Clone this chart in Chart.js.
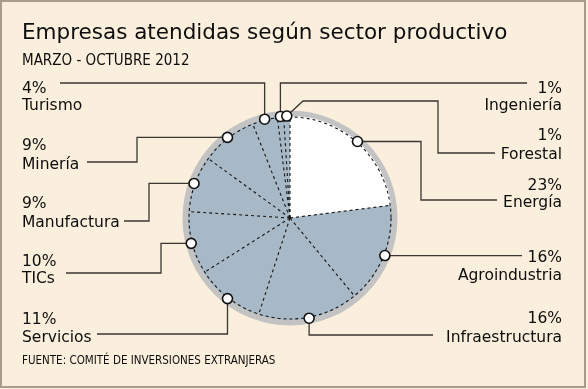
<!DOCTYPE html>
<html>
<head>
<meta charset="utf-8">
<script src="https://cdn.jsdelivr.net/npm/chart.js@4.4.0/dist/chart.umd.min.js"></script>
<style>
html, body { margin: 0; padding: 0; background: #faefdc; }
canvas { display: block; }
</style>
</head>
<body>
<canvas id="sectores" width="588" height="389"></canvas>
<script>

var sectores = ["Energía", "Agroindustria", "Infraestructura", "Servicios", "TICs", "Manufactura", "Minería", "Turismo", "Ingeniería", "Forestal"];
var porcentajes = [23, 16, 16, 11, 10, 9, 9, 4, 1, 1];
var colores = ["#ffffff", "#a7b9c7", "#a7b9c7", "#a7b9c7", "#a7b9c7", "#a7b9c7", "#a7b9c7", "#a7b9c7", "#a7b9c7", "#a7b9c7"];

var titulo = "Empresas atendidas según sector productivo";
var subtitulo = "MARZO - OCTUBRE 2012";
var fuente = "FUENTE: COMITÉ DE INVERSIONES EXTRANJERAS";

// where each label sits and how its leader line runs to the dot (p)
var etiquetas = {
	"Energía":         { lado: 'R', x: 562, y1: 190, y2: 207, ruta: function(p){ return [[497,200],[421,200],[421,p.y],[p.x,p.y]]; } },
	"Agroindustria":   { lado: 'R', x: 562, y1: 262, y2: 280, ruta: function(p){ return [[522,p.y],[p.x,p.y]]; } },
	"Infraestructura": { lado: 'R', x: 562, y1: 323, y2: 342, ruta: function(p){ return [[433,335],[p.x,335],[p.x,p.y]]; } },
	"Servicios":       { lado: 'L', x: 22,  y1: 324, y2: 342, ruta: function(p){ return [[97,334],[p.x,334],[p.x,p.y]]; } },
	"TICs":            { lado: 'L', x: 22,  y1: 266, y2: 283, ruta: function(p){ return [[66,273],[161,273],[161,p.y],[p.x,p.y]]; } },
	"Manufactura":     { lado: 'L', x: 22,  y1: 208, y2: 227, ruta: function(p){ return [[124,221],[149,221],[149,p.y],[p.x,p.y]]; } },
	"Minería":         { lado: 'L', x: 22,  y1: 150, y2: 169, ruta: function(p){ return [[87,162],[137,162],[137,p.y],[p.x,p.y]]; } },
	"Turismo":         { lado: 'L', x: 22,  y1: 93,  y2: 110, ruta: function(p){ return [[60,83],[p.x,83],[p.x,p.y]]; } },
	"Ingeniería":      { lado: 'R', x: 562, y1: 93,  y2: 110, ruta: function(p){ return [[527,83],[p.x,83],[p.x,p.y]]; } },
	"Forestal":        { lado: 'R', x: 562, y1: 140, y2: 159, ruta: function(p){ return [[495,153],[438,153],[438,101],[303,101],[p.x,p.y]]; } }
};

var decoracion = {
	id: 'decoracion',
	beforeDraw: function(chart){
		var ctx = chart.ctx;
		ctx.save();
		ctx.fillStyle = "#faefdc";
		ctx.fillRect(0, 0, chart.width, chart.height);
		ctx.strokeStyle = "#ab9b8a";
		ctx.lineWidth = 2;
		ctx.strokeRect(1, 1, chart.width - 4, chart.height - 3);

		ctx.fillStyle = "#0d0d0d";
		ctx.textAlign = 'left';
		ctx.textBaseline = 'alphabetic';
		ctx.font = "21.5px 'DejaVu Sans'";
		ctx.fillText(titulo, 22, 39);
		ctx.font = "15px 'DejaVu Sans Condensed'";
		ctx.fillText(subtitulo, 22, 65);
		ctx.font = "11.5px 'DejaVu Sans Condensed'";
		ctx.fillText(fuente, 22, 364);
		ctx.restore();
	},
	beforeDatasetsDraw: function(chart){
		var ctx = chart.ctx;
		var arc = chart.getDatasetMeta(0).data[0];
		ctx.save();
		ctx.fillStyle = "#c3c3c3";
		ctx.beginPath();
		ctx.arc(arc.x, arc.y, arc.outerRadius + 5.5, 0, Math.PI * 2);
		ctx.fill();
		ctx.restore();
	},
	afterDatasetsDraw: function(chart){
		var ctx = chart.ctx;
		var arcos = chart.getDatasetMeta(0).data;
		var cx = arcos[0].x, cy = arcos[0].y, R = arcos[0].outerRadius;

		ctx.save();
		ctx.strokeStyle = "#151515";
		ctx.lineWidth = 1.1;
		ctx.setLineDash([3, 3]);
		arcos.forEach(function(a){
			ctx.beginPath();
			ctx.moveTo(cx, cy);
			ctx.lineTo(cx + R * Math.cos(a.startAngle), cy + R * Math.sin(a.startAngle));
			ctx.stroke();
		});
		ctx.beginPath();
		ctx.arc(cx, cy, R - 1, 0, Math.PI * 2);
		ctx.stroke();
		ctx.setLineDash([]);

		// leader lines
		var puntos = [];
		arcos.forEach(function(a, i){
			var mid = (a.startAngle + a.endAngle) / 2;
			var p = { x: cx + R * Math.cos(mid), y: cy + R * Math.sin(mid) };
			puntos.push(p);
			var ruta = etiquetas[sectores[i]].ruta(p);
			ctx.strokeStyle = "#3a3631";
			ctx.lineWidth = 1.3;
			ctx.beginPath();
			ctx.moveTo(ruta[0][0], ruta[0][1]);
			for (var k = 1; k < ruta.length; k++) ctx.lineTo(ruta[k][0], ruta[k][1]);
			ctx.stroke();
		});

		// dots
		puntos.forEach(function(p){
			ctx.beginPath();
			ctx.arc(p.x, p.y, 5, 0, Math.PI * 2);
			ctx.fillStyle = "#ffffff";
			ctx.fill();
			ctx.strokeStyle = "#111111";
			ctx.lineWidth = 1.6;
			ctx.stroke();
		});

		// labels
		ctx.fillStyle = "#0d0d0d";
		ctx.font = "15.5px 'DejaVu Sans'";
		ctx.textBaseline = 'alphabetic';
		sectores.forEach(function(s, i){
			var e = etiquetas[s];
			ctx.textAlign = e.lado === 'R' ? 'right' : 'left';
			ctx.fillText(porcentajes[i] + "%", e.x, e.y1);
			ctx.fillText(s, e.x, e.y2);
		});
		ctx.restore();
	}
};

var chart_pie_settings = {
	type: 'pie',
	data: {
		labels: sectores,
		datasets: [{
			data: porcentajes,
			backgroundColor: colores,
			borderWidth: 0
		}]
	},
	options: {
		responsive: false,
		animation: false,
		layout: { padding: { left: 188, right: 196, top: 116, bottom: 69 } },
		plugins: {
			legend: { display: false },
			tooltip: { enabled: false },
			title: { display: false }
		}
	},
	plugins: [decoracion]
};

var chart_pie = new Chart(document.getElementById('sectores'), chart_pie_settings);

</script>
</body>
</html>
